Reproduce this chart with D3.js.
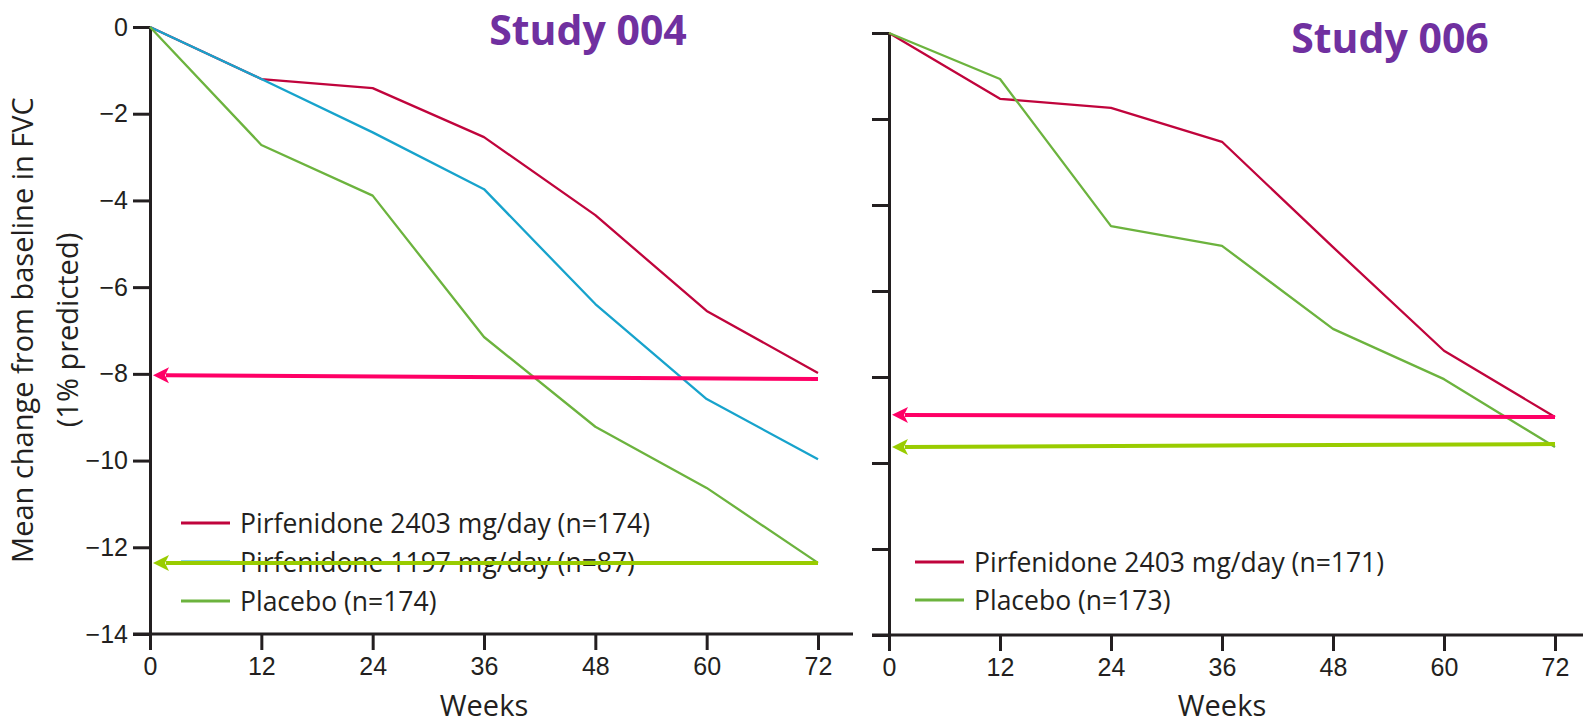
<!DOCTYPE html>
<html>
<head>
<meta charset="utf-8">
<script src="https://cdn.jsdelivr.net/npm/d3@7"></script>
<style>
  body { margin: 0; background: #fff; }
  svg { display: block; font-family: "Open Sans", sans-serif; }
</style>
</head>
<body>
<div id="chart"></div>
<script>
var width = 1583;
var height = 724;

// data
var weeks = [0, 12, 24, 36, 48, 60, 72];
var yTicks = [0, -2, -4, -6, -8, -10, -12, -14];

var s004Pirf2403 = [0, -1.2, -1.41, -2.54, -4.34, -6.55, -7.98];
var s004Pirf1197 = [0, -1.2, -2.43, -3.74, -6.39, -8.58, -9.97];
var s004Placebo = [0, -2.72, -3.89, -7.15, -9.22, -10.63, -12.36];
var s006Pirf2403 = [0, -1.53, -1.74, -2.53, -4.98, -7.39, -8.93];
var s006Placebo = [0, -1.07, -4.49, -4.95, -6.88, -8.05, -9.63];

var s004Labels = ["Pirfenidone 2403 mg/day (n=174)", "Pirfenidone 1197 mg/day (n=87)", "Placebo (n=174)"];
var s006Labels = ["Pirfenidone 2403 mg/day (n=171)", "Placebo (n=173)"];

// arrows: [week at tail, value at tail, week at tip, value at tip]
var s004Arrows = [[72, -8.12, 0, -8.03], [72, -12.36, 0, -12.36]];
var s006Arrows = [[72, -8.93, 0, -8.88], [72, -9.56, 0, -9.63]];

var red = "#c0043c", blue = "#17a3cc", green = "#6cb33e";
var pink = "#ff0066", lime = "#99cc00", ink = "#231f20";

var svg = d3.select("#chart")
  .append("svg")
  .attr("width", width)
  .attr("height", height);

function panel(opt) {
  var x = d3.scaleLinear().domain([0, 72]).range(opt.xr);
  var y = d3.scaleLinear().domain([0, -14]).range(opt.yr);
  var g = svg.append("g");

  // y axis
  var ya = d3.axisLeft(y).tickValues(yTicks).tickSize(17).tickSizeOuter(0).tickPadding(5);
  if (!opt.yLabels) ya.tickFormat("");
  var yg = g.append("g").attr("transform", "translate(" + x(0) + ",0)").call(ya);
  yg.select(".domain").attr("stroke", ink).attr("stroke-width", 3);
  yg.selectAll(".tick line").attr("stroke", ink).attr("stroke-width", 3);
  yg.selectAll("text").attr("fill", ink).style("font-size", "25px");

  // x axis
  var xa = d3.axisBottom(x).tickValues(weeks).tickSize(16).tickPadding(7);
  var xg = g.append("g").attr("transform", "translate(0," + y(-14) + ")").call(xa);
  xg.select(".domain").remove();
  xg.selectAll(".tick line").attr("stroke", ink).attr("stroke-width", 3);
  xg.selectAll("text").attr("fill", ink).style("font-size", "25px");
  g.append("line")
    .attr("x1", x(0) - 17).attr("x2", x(72) + opt.xExtra)
    .attr("y1", y(-14)).attr("y2", y(-14))
    .attr("stroke", ink).attr("stroke-width", 3);

  g.append("text")
    .attr("x", x(36)).attr("y", 716)
    .attr("text-anchor", "middle")
    .attr("fill", ink)
    .style("font-size", "29px")
    .text("Weeks");

  // title
  g.append("text")
    .attr("x", opt.titleX).attr("y", opt.titleY)
    .attr("text-anchor", "middle")
    .attr("fill", "#7030a0")
    .style("font-size", "41px")
    .style("font-weight", "700")
    .text(opt.title);

  // series lines
  var line = d3.line()
    .x(function(d) { return x(d[0]); })
    .y(function(d) { return y(d[1]); });
  opt.series.forEach(function(s) {
    g.append("path")
      .datum(d3.zip(weeks, s.values))
      .attr("d", line)
      .attr("fill", "none")
      .attr("stroke", s.color)
      .attr("stroke-width", 2.3)
      .attr("stroke-linejoin", "round");
  });

  // legend
  var lg = g.append("g");
  opt.series.forEach(function(s, i) {
    var ly = opt.legendY + i * opt.legendStep;
    lg.append("line")
      .attr("x1", opt.legendX).attr("x2", opt.legendX + 49)
      .attr("y1", ly).attr("y2", ly)
      .attr("stroke", s.color).attr("stroke-width", 3);
    lg.append("text")
      .attr("x", opt.legendX + 59).attr("y", ly + 10)
      .attr("fill", ink)
      .style("font-size", "26.5px")
      .text(s.label);
  });

  // arrows
  opt.arrows.forEach(function(a, i) {
    var c = i === 0 ? pink : lime;
    var x1 = x(a[0]), y1 = y(a[1]), x2 = x(a[2]) + 3, y2 = y(a[3]);
    var ang = Math.atan2(y2 - y1, x2 - x1);
    var hl = 16, hw = 8;
    g.append("line")
      .attr("x1", x1).attr("y1", y1)
      .attr("x2", x2 - Math.cos(ang) * (hl - 3)).attr("y2", y2 - Math.sin(ang) * (hl - 3))
      .attr("stroke", c).attr("stroke-width", 4);
    var cos = Math.cos(ang), sin = Math.sin(ang);
    function pt(back, side) {
      return [x2 - cos * back - sin * side, y2 - sin * back + cos * side];
    }
    var p = [pt(0, 0), pt(hl, hw), pt(hl - 4, 0), pt(hl, -hw)];
    g.append("path")
      .attr("d", "M" + p.join("L") + "Z")
      .attr("fill", c);
  });
}

panel({
  xr: [150, 818], yr: [27, 634], xExtra: 35, yLabels: true,
  title: "Study 004", titleX: 588, titleY: 45,
  series: [
    { values: s004Pirf2403, color: red, label: s004Labels[0] },
    { values: s004Pirf1197, color: blue, label: s004Labels[1] },
    { values: s004Placebo, color: green, label: s004Labels[2] }
  ],
  legendX: 181, legendY: 523, legendStep: 39,
  arrows: s004Arrows
});

panel({
  xr: [889, 1555], yr: [33, 635], xExtra: 40, yLabels: false,
  title: "Study 006", titleX: 1390, titleY: 53,
  series: [
    { values: s006Pirf2403, color: red, label: s006Labels[0] },
    { values: s006Placebo, color: green, label: s006Labels[1] }
  ],
  legendX: 915, legendY: 562, legendStep: 38,
  arrows: s006Arrows
});

// y axis title
svg.append("text")
  .attr("transform", "translate(33,330) rotate(-90)")
  .attr("text-anchor", "middle")
  .attr("fill", ink)
  .style("font-size", "29px")
  .text("Mean change from baseline in FVC");
svg.append("text")
  .attr("transform", "translate(78,330) rotate(-90)")
  .attr("text-anchor", "middle")
  .attr("fill", ink)
  .style("font-size", "29px")
  .text("(1% predicted)");
</script>
</body>
</html>
